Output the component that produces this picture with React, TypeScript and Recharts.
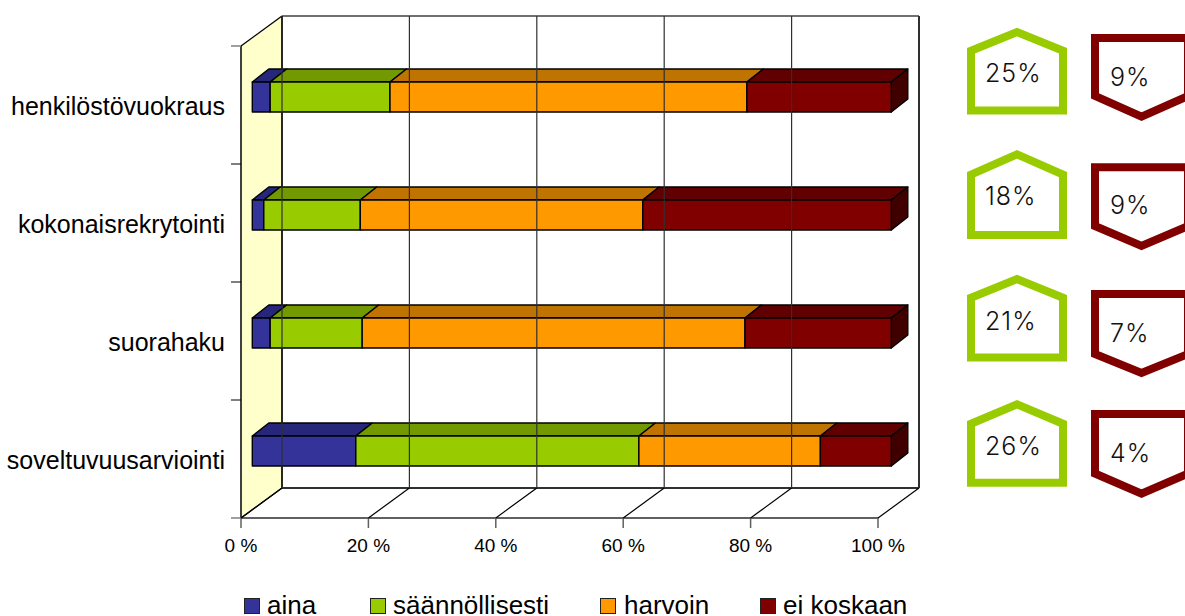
import { BarChart, Bar, XAxis, YAxis, Legend, Customized } from 'recharts';

// Rekrytointipalvelujen käyttö, pinottu 3D-palkkikaavio

const categories = ['henkilöstövuokraus', 'kokonaisrekrytointi', 'suorahaku', 'soveltuvuusarviointi'];
const aina = [2.8, 1.8, 2.8, 16.2];
const saannollisesti = [18.75, 15.1, 14.4, 44.3];
const harvoin = [55.85, 44.2, 59.9, 28.4];
const eiKoskaan = [22.6, 38.9, 22.9, 11.1];
const xTicks = [0, 20, 40, 60, 80, 100];
const houseLabels = ['25%', '18%', '21%', '26%'];
const shieldLabels = ['9%', '9%', '7%', '4%'];

const chartData = categories.map((name, i) => ({
  name,
  aina: aina[i],
  saannollisesti: saannollisesti[i],
  harvoin: harvoin[i],
  eiKoskaan: eiKoskaan[i],
}));

// plot box of the front plane, plus the 3D offsets
const PLOT = { left: 241, top: 46, right: 878, bottom: 518 };
const WALL_DX = 41;
const WALL_DY = -30;
const BAR_DX = 11.3;
const BAR_DY = -8;
const BAR_STRETCH = 639 / 637;
const DEPTH_X = 16.5;
const DEPTH_Y = -13;
const SANS = '"Liberation Sans", Arial, sans-serif';
const BADGE_FONT = 'Inter, sans-serif';

const SERIES = [
  { key: 'aina', label: 'aina', front: '#333399', top: '#26267a', labelX: 267, swatchX: 244 },
  { key: 'saannollisesti', label: 'säännöllisesti', front: '#99cc00', top: '#729900', labelX: 393, swatchX: 370 },
  { key: 'harvoin', label: 'harvoin', front: '#ff9900', top: '#bf7300', labelX: 624, swatchX: 600 },
  { key: 'eiKoskaan', label: 'ei koskaan', front: '#800000', top: '#600000', labelX: 783, swatchX: 760 },
];

const HOUSE_ROWS = [
  { apex: 32, shoulder: 50.7, bottom: 110.5, textY: 82 },
  { apex: 154.3, shoulder: 174.7, bottom: 235, textY: 205 },
  { apex: 279, shoulder: 297.7, bottom: 357.5, textY: 330 },
  { apex: 404.3, shoulder: 423.7, bottom: 482.7, textY: 455 },
];

const SHIELD_ROWS = [
  { top: 38, shoulder: 96, point: 116.6, textY: 85.7 },
  { top: 167.3, shoulder: 226, point: 246, textY: 214 },
  { top: 294, shoulder: 354, point: 373, textY: 342.3 },
  { top: 414, shoulder: 473.5, point: 493.6, textY: 462 },
];

// Side wall, back wall and floor edges behind the bars
function Walls() {
  const { left, top, right, bottom } = PLOT;
  const backLeft = left + WALL_DX;
  const backRight = right + WALL_DX;
  const backTop = top + WALL_DY;
  const backBottom = bottom + WALL_DY;
  const band = (bottom - top) / categories.length;
  return (
    <g>
      <polygon
        points={`${left},${top} ${backLeft},${backTop} ${backLeft},${backBottom} ${left},${bottom}`}
        fill="#ffffcc"
      />
      <line x1={backLeft} y1={backTop} x2={backRight} y2={backTop} stroke="#707070" strokeWidth={2} />
      <line x1={backRight} y1={backTop} x2={backRight} y2={backBottom} stroke="#505050" strokeWidth={2} />
      <line x1={backLeft} y1={backTop} x2={backLeft} y2={backBottom} stroke="#202020" strokeWidth={2} />
      <line x1={backLeft} y1={backBottom} x2={backRight} y2={backBottom} stroke="#303030" strokeWidth={2} />
      <line x1={left} y1={top} x2={left} y2={bottom} stroke="#404040" strokeWidth={2} />
      <line x1={left} y1={bottom} x2={right} y2={bottom} stroke="#606060" strokeWidth={2} />
      <line x1={left} y1={top} x2={backLeft} y2={backTop} stroke="#000" strokeWidth={1.3} />
      <line x1={left} y1={bottom} x2={backLeft} y2={backBottom} stroke="#000" strokeWidth={1.3} />
      {categories.concat('').map((_, i) => (
        <line
          key={i}
          x1={left - 10}
          y1={top + band * i}
          x2={left}
          y2={top + band * i}
          stroke={i === 0 || i === categories.length ? '#808080' : '#000'}
          strokeWidth={i === 0 || i === categories.length ? 1.5 : 1}
        />
      ))}
    </g>
  );
}

// Percent tick: label, tick mark, floor diagonal and back wall gridline
function PercentTick({ x, y, payload }: any) {
  return (
    <g>
      <line x1={x} y1={PLOT.bottom} x2={x} y2={PLOT.bottom + 10} stroke="#606060" strokeWidth={1.5} />
      <line x1={x} y1={PLOT.bottom} x2={x + WALL_DX} y2={PLOT.bottom + WALL_DY} stroke="#000" strokeWidth={1.2} />
      <line
        x1={x + WALL_DX}
        y1={PLOT.top + WALL_DY}
        x2={x + WALL_DX}
        y2={PLOT.bottom + WALL_DY}
        stroke="#303030"
        strokeWidth={payload.value === 100 ? 2 : 1.2}
      />
      <text x={x} y={552} textAnchor="middle" fontFamily={SANS} fontSize={19} fill="#000">
        {payload.value} %
      </text>
    </g>
  );
}

function CategoryTick({ y, payload }: any) {
  return (
    <text x={225} y={y + 9.5} textAnchor="end" fontFamily={SANS} fontSize={25} fill="#000">
      {payload.value}
    </text>
  );
}

// One stacked segment as a box: front face, top face, right face on the last series
function Block({ x, y, width, height, front, top, last }: any) {
  const x0 = PLOT.left + (x - PLOT.left) * BAR_STRETCH;
  const xEnd = x0 + width * BAR_STRETCH;
  const yEnd = y + height;
  return (
    <g transform={`translate(${BAR_DX},${BAR_DY})`} stroke="#000" strokeWidth={1.4} strokeLinejoin="round">
      <polygon
        points={`${x0},${y} ${x0 + DEPTH_X},${y + DEPTH_Y} ${xEnd + DEPTH_X},${y + DEPTH_Y} ${xEnd},${y}`}
        fill={top}
      />
      {last && (
        <polygon
          points={`${xEnd},${y} ${xEnd + DEPTH_X},${y + DEPTH_Y} ${xEnd + DEPTH_X},${yEnd + DEPTH_Y} ${xEnd},${yEnd}`}
          fill="#400000"
        />
      )}
      <rect x={x0} y={y} width={xEnd - x0} height={height} fill={front} />
    </g>
  );
}

// Green and dark red percentage badges on the right
function Badges() {
  return (
    <g>
      {HOUSE_ROWS.map((r, i) => (
        <g key={i}>
          <polygon
            points={`971,${r.shoulder} 1017,${r.apex} 1063,${r.shoulder} 1063,${r.bottom} 971,${r.bottom}`}
            fill="#fff"
            stroke="#99cc00"
            strokeWidth={8}
          />
          <text x={985} y={r.textY} fontFamily={BADGE_FONT} fontWeight={300} fontSize={25} letterSpacing={1} fill="#111">
            {houseLabels[i]}
          </text>
        </g>
      ))}
      {SHIELD_ROWS.map((r, i) => (
        <g key={i}>
          <polygon
            points={`1095,${r.top} 1188,${r.top} 1188,${r.shoulder} 1141.5,${r.point} 1095,${r.shoulder}`}
            fill="#fff"
            stroke="#800000"
            strokeWidth={8}
          />
          <text x={1110} y={r.textY} fontFamily={BADGE_FONT} fontWeight={300} fontSize={25} letterSpacing={1} fill="#111">
            {shieldLabels[i]}
          </text>
        </g>
      ))}
    </g>
  );
}

function LegendRow() {
  return (
    <div style={{ position: 'relative', width: 1185, height: 26, fontFamily: SANS, fontSize: 26, lineHeight: '24px' }}>
      {SERIES.map((s) => (
        <span key={s.key}>
          <span
            style={{
              position: 'absolute',
              left: s.swatchX,
              top: 8,
              width: 14,
              height: 14,
              background: s.front,
              border: '1px solid #222',
            }}
          />
          <span style={{ position: 'absolute', left: s.labelX, top: 3, color: '#000', whiteSpace: 'nowrap' }}>
            {s.label}
          </span>
        </span>
      ))}
    </div>
  );
}

export default function App() {
  return (
    <div style={{ position: 'absolute', left: 0, top: 0, width: 1185, height: 616, overflow: 'hidden', background: '#fff' }}>
      <BarChart
        width={1185}
        height={616}
        data={chartData}
        layout="vertical"
        barSize={30}
        margin={{ top: PLOT.top, right: 1185 - PLOT.right, bottom: 42, left: 0 }}
      >
        <Customized component={<Walls />} />
        <XAxis
          type="number"
          domain={[0, 100]}
          ticks={xTicks}
          height={30}
          axisLine={false}
          tickLine={false}
          tick={<PercentTick />}
        />
        <YAxis
          type="category"
          dataKey="name"
          width={PLOT.left}
          axisLine={false}
          tickLine={false}
          interval={0}
          tick={<CategoryTick />}
        />
        <Legend
          verticalAlign="bottom"
          height={30}
          wrapperStyle={{ left: 0, top: 590, width: 1185, height: 26 }}
          content={<LegendRow />}
        />
        {SERIES.map((s, i) => (
          <Bar
            key={s.key}
            dataKey={s.key}
            stackId="a"
            isAnimationActive={false}
            shape={(props: any) => (
              <Block {...props} front={s.front} top={s.top} last={i === SERIES.length - 1} />
            )}
          />
        ))}
        <Customized component={<Badges />} />
      </BarChart>
    </div>
  );
}
